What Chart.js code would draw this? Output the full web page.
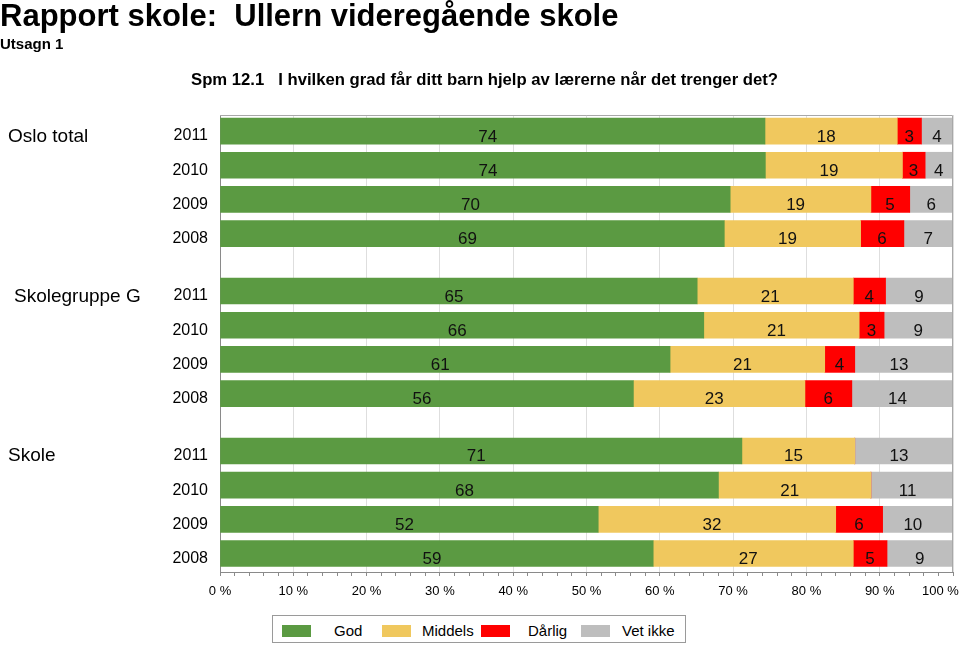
<!DOCTYPE html>
<html><head><meta charset="utf-8">
<script src="https://cdn.jsdelivr.net/npm/chart.js@4/dist/chart.umd.min.js"></script>
<style>
html,body{margin:0;padding:0;background:#fff;}
#wrap{position:relative;width:960px;height:645px;overflow:hidden;font-family:"Liberation Sans",Arial,sans-serif;color:#000;}
#c{position:absolute;left:0;top:0;}
.t{position:absolute;white-space:pre;font-weight:bold;line-height:1;}
#legend{position:absolute;left:272px;top:615px;width:414px;height:28px;border:1px solid #9a9a9a;box-sizing:border-box;background:#fff;}
.sw{position:absolute;top:9px;width:29px;height:12px;}
.lt{position:absolute;top:7px;font-size:15px;line-height:15px;white-space:pre;}
</style></head>
<body>
<div id="wrap">
<canvas id="c" width="960" height="645"></canvas>
<div class="t" style="left:0;top:0px;font-size:31px;">Rapport skole:  Ullern videregående skole</div>
<div class="t" style="left:0;top:36px;font-size:15px;">Utsagn 1</div>
<div class="t" style="left:191px;top:72px;font-size:16.7px;">Spm 12.1   I hvilken grad får ditt barn hjelp av lærerne når det trenger det?</div>
<div id="legend"></div>
</div>
<script>
// ---- data ----
const groups = ["Oslo total", "Skolegruppe G", "Skole"];
const years = ["2011", "2010", "2009", "2008"];
const seriesNames = ["God", "Middels", "Dårlig", "Vet ikke"];
const god     = [74.35, 74.4, 69.6, 68.8,  65.1, 66.0, 61.4, 56.4,  71.2, 68.0, 51.6, 59.1];
const middels = [18.05, 18.7, 19.2, 18.6,  21.3, 21.2, 21.1, 23.4,  15.4, 20.8, 32.4, 27.3];
const darlig  = [3.3,   3.1,  5.3,  5.9,   4.4,  3.4,  4.1,  6.4,   0,    0,    6.4,  4.6];
const vetIkke = [4.3,   3.8,  5.9,  6.7,   9.2,  9.4,  13.4, 13.8,  13.4, 11.2, 9.6,  9.0];
const xTickValues = [0, 10, 20, 30, 40, 50, 60, 70, 80, 90, 100];

// ---- layout helpers ----
const GROUP_GAP = 0.68;
const colors = ["#5b9a42", "#f0c85e", "#ff0000", "#bebebe"];
const rowPos = i => Math.floor(i / 4) * (4 + GROUP_GAP) + (i % 4);
const nRows = god.length;
const allSeries = [god, middels, darlig, vetIkke];

const datasets = allSeries.map((arr, s) => ({
  label: seriesNames[s],
  data: arr.map((v, i) => ({ x: v, y: rowPos(i) })),
  backgroundColor: colors[s],
  borderWidth: 0,
  barThickness: 26
}));

const FONT = '"Liberation Sans", Arial, sans-serif';

const valueLabels = {
  id: 'valueLabels',
  afterDatasetsDraw(chart) {
    const ctx = chart.ctx;
    ctx.save();
    ctx.font = '17px ' + FONT;
    ctx.fillStyle = '#111';
    ctx.textAlign = 'right';
    ctx.textBaseline = 'alphabetic';
    chart.data.datasets.forEach((ds, di) => {
      const meta = chart.getDatasetMeta(di);
      meta.data.forEach((el, i) => {
        const v = Math.round(ds.data[i].x);
        if (!v) return;
        const cx = (el.x + el.base) / 2;
        ctx.fillText(String(v), cx + 4.5, el.y + 10.5);
      });
    });
    ctx.restore();
  }
};

const groupLabels = {
  id: 'groupLabels',
  afterDraw(chart) {
    const ctx = chart.ctx;
    const ys = chart.scales.y;
    const lefts = [8, 14, 8];
    ctx.save();
    ctx.font = '19px ' + FONT;
    ctx.fillStyle = '#000';
    ctx.textAlign = 'left';
    ctx.textBaseline = 'alphabetic';
    groups.forEach((g, gi) => {
      const y = ys.getPixelForValue(rowPos(gi * 4));
      ctx.fillText(g, lefts[gi], y + 10.5);
    });
    // plot frame top and right
    const a = chart.chartArea;
    ctx.strokeStyle = '#a8a8a8';
    ctx.lineWidth = 1;
    ctx.beginPath();
    ctx.moveTo(a.left, a.top + 0.5);
    ctx.lineTo(a.right - 0.5, a.top + 0.5);
    ctx.lineTo(a.right - 0.5, a.bottom);
    ctx.stroke();
    ctx.restore();
  }
};

new Chart(document.getElementById('c'), {
  type: 'bar',
  data: { datasets },
  options: {
    indexAxis: 'y',
    responsive: false,
    animation: false,
    events: [],
    layout: { padding: { left: 0, top: 115, right: 7, bottom: 0 } },
    plugins: { legend: { display: false }, tooltip: { enabled: false } },
    scales: {
      x: {
        type: 'linear',
        stacked: true,
        bounds: 'data',
        offset: false,
        min: 0, max: 100,
        afterBuildTicks(scale) {
          const t = [];
          for (let v = 0; v <= 100; v += 2) t.push({ value: v });
          scale.ticks = t;
        },
        ticks: {
          autoSkip: false,
          maxRotation: 0,
          padding: 8,
          color: '#000',
          font: { family: FONT, size: 13 },
          // last label is kept inside the window by trailing spaces
          callback: v => xTickValues.includes(v) ? (v === 100 ? v + ' %       ' : v + ' %') : ''
        },
        grid: {
          offset: false,
          color: c => (c.tick && xTickValues.includes(c.tick.value)) ? '#dedede' : 'rgba(0,0,0,0)',
          tickColor: '#8a8a8a',
          tickLength: 4,
          drawOnChartArea: true
        },
        border: { display: true, color: '#8a8a8a' },
        afterFit(scale) { scale.height = 73; scale.paddingLeft = 0; scale.paddingRight = 0; }
      },
      y: {
        type: 'linear',
        stacked: true,
        reverse: true,
        bounds: 'data',
        offset: false,
        min: -0.47,
        max: 12.9,
        afterBuildTicks(scale) {
          scale.ticks = Array.from({ length: nRows }, (_, i) => ({ value: rowPos(i) }));
        },
        ticks: {
          autoSkip: false,
          padding: 12,
          labelOffset: 5,
          color: '#000',
          font: { family: FONT, size: 16 },
          callback: (v, idx) => years[idx % 4]
        },
        grid: { display: false, drawTicks: false, offset: false },
        border: { display: true, color: '#8a8a8a' },
        afterFit(scale) { scale.width = 220; scale.paddingTop = 0; scale.paddingBottom = 0; }
      }
    }
  },
  plugins: [valueLabels, groupLabels]
});

// HTML legend
const legend = document.getElementById('legend');
const swLeft = [9, 109, 208, 308];
const txLeft = [61, 149, 255, 349];
seriesNames.forEach((n, i) => {
  const sw = document.createElement('div');
  sw.className = 'sw';
  sw.style.left = swLeft[i] + 'px';
  sw.style.background = colors[i];
  legend.appendChild(sw);
  const tx = document.createElement('div');
  tx.className = 'lt';
  tx.style.left = txLeft[i] + 'px';
  tx.textContent = n;
  legend.appendChild(tx);
});
</script>
</body></html>
